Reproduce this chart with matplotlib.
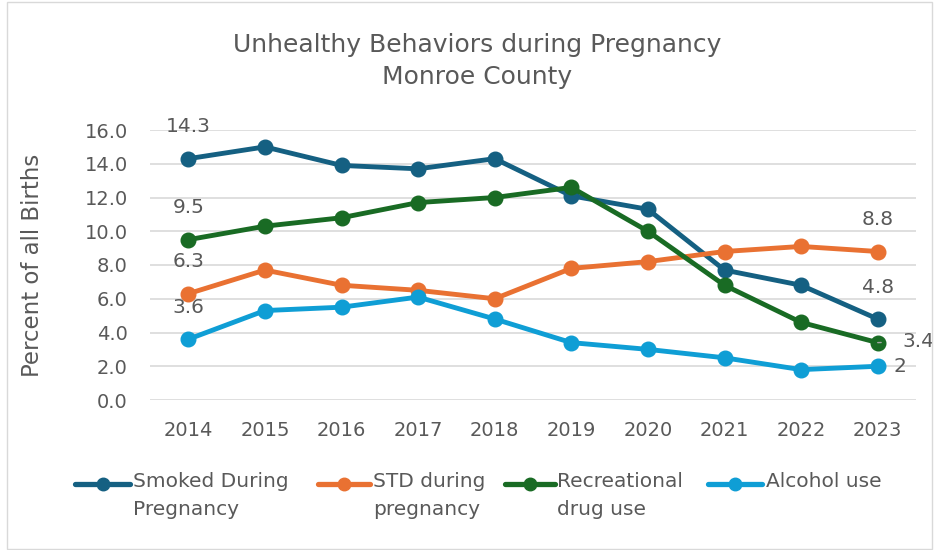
import matplotlib.pyplot as plt
from matplotlib.lines import Line2D
import numpy as np

plt.rcParams['font.family'] = ['DejaVu Sans']

years = ['2014', '2015', '2016', '2017', '2018', '2019', '2020', '2021', '2022', '2023']
smoked = [14.3, 15.0, 13.9, 13.7, 14.3, 12.1, 11.3, 7.7, 6.8, 4.8]
std = [6.3, 7.7, 6.8, 6.5, 6.0, 7.8, 8.2, 8.8, 9.1, 8.8]
recreational = [9.5, 10.3, 10.8, 11.7, 12.0, 12.6, 10.0, 6.8, 4.6, 3.4]
alcohol = [3.6, 5.3, 5.5, 6.1, 4.8, 3.4, 3.0, 2.5, 1.8, 2.0]

names = ['Smoked During\nPregnancy', 'STD during\npregnancy', 'Recreational\ndrug use', 'Alcohol use']
colors = ['#156082', '#E97132', '#196B24', '#0F9ED5']
series = [smoked, std, recreational, alcohol]

txt = '#595959'
W, H = 935, 550
fig = plt.figure(figsize=(9.35, 5.5), dpi=100)
ax = fig.add_axes([150 / W, 1 - 400 / H, 766 / W, 270 / H])
x = np.arange(len(years))

for vals, name, c in zip(series, names, colors):
    ax.plot(x, vals, '-o', color=c, lw=3.5, ms=10.5, label=name)

# data labels at first and last points
fs = 14.5
def lab(s, i, v, dx, dy, **kw):
    ax.annotate(s, (i, v), xytext=(dx, dy), textcoords='offset points', ha='center', va='center',
                fontsize=fs, color=txt, **kw)

lab('14.3', 0, smoked[0], 0, 23)
lab('9.5', 0, recreational[0], 0, 23)
lab('6.3', 0, std[0], 0, 23)
lab('3.6', 0, alcohol[0], 0, 23)
lab('8.8', 9, std[9], 0, 23)
lab('4.8', 9, smoked[9], 0, 23)
lab('3.4', 9, recreational[9], 29, 1,
    arrowprops=dict(arrowstyle='-', color='#A6A6A6', lw=1, shrinkA=13, shrinkB=6))
lab('2', 9, alcohol[9], 16, 0)

ax.set_xlim(-0.5, len(years) - 0.5)
ax.set_ylim(0, 16)
ax.set_yticks(np.arange(0, 17, 2))
ax.set_yticklabels(['%.1f' % v for v in np.arange(0, 17, 2)])
ax.set_xticks(x)
ax.set_xticklabels(years)
ax.tick_params(length=0, labelsize=14, labelcolor=txt)
ax.tick_params(axis='x', pad=15)
ax.tick_params(axis='y', pad=16)
ax.grid(axis='y', color='#D9D9D9', lw=1.2)
ax.set_axisbelow(True)
for s in ax.spines.values():
    s.set_visible(False)

fig.text(33 / W, 1 - 265 / H, 'Percent of all Births', rotation=90, ha='center', va='center',
         fontsize=16.5, color=txt)

fig.text(477 / W, 1 - 45 / H, 'Unhealthy Behaviors during Pregnancy', ha='center', va='center',
         fontsize=18, color=txt)
fig.text(477 / W, 1 - 77 / H, 'Monroe County', ha='center', va='center', fontsize=18, color=txt)

# legend drawn by hand: handle beside the first line of each label
leg_x = [(75, 130, 133), (318, 370, 373), (505, 555, 557), (708, 762, 766)]
for (x0, x1, tx), name, c in zip(leg_x, names, colors):
    y = 1 - 484 / H
    fig.add_artist(Line2D([x0 / W, x1 / W], [y, y], color=c, lw=3.8, solid_capstyle='round',
                          transform=fig.transFigure))
    fig.add_artist(Line2D([(x0 + x1) / 2 / W], [y], marker='o', ms=9, color=c, transform=fig.transFigure))
    fig.text(tx / W, 1 - 472 / H, name, ha='left', va='top', fontsize=14.5, color=txt, linespacing=1.6)

fig.add_artist(plt.Rectangle((0.007, 0.002), 0.99, 0.995, transform=fig.transFigure,
                             fill=False, edgecolor='#D9D9D9', lw=1))

fig.savefig('out.png', dpi=100)
